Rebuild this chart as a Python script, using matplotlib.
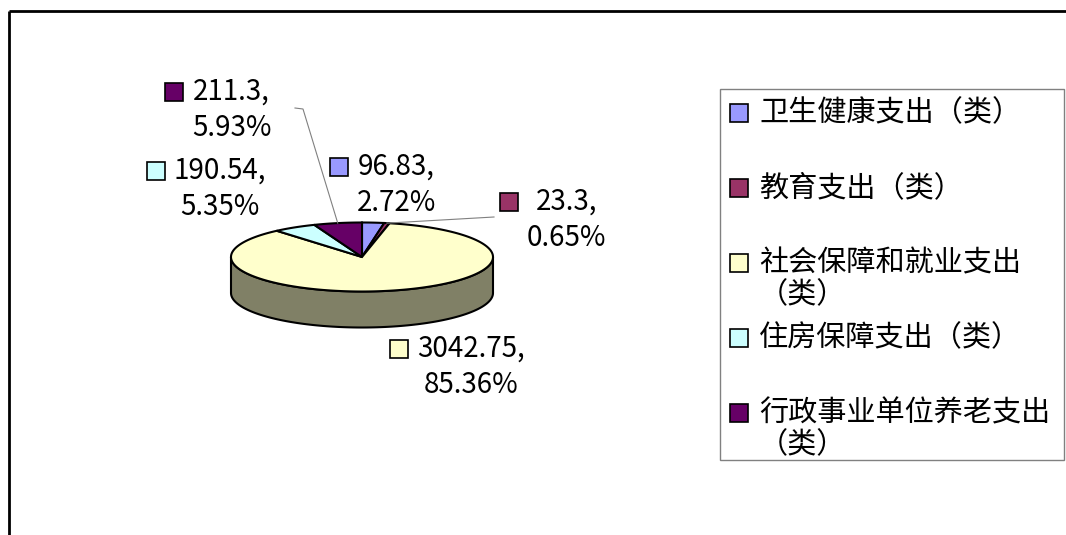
import matplotlib.pyplot as plt
import numpy as np
from matplotlib.colors import to_rgb
from matplotlib.patches import Polygon, Rectangle

plt.rcParams["font.family"] = ["Noto Sans CJK SC", "DejaVu Sans"]

# data, in drawing order (clockwise from 12 o'clock)
categories = [
    "卫生健康支出（类）",
    "教育支出（类）",
    "社会保障和就业支出\n（类）",
    "住房保障支出（类）",
    "行政事业单位养老支出\n（类）",
]
values = [96.83, 23.3, 3042.75, 190.54, 211.3]
colors = ["#9999FF", "#993366", "#FFFFCC", "#CCFFFF", "#660066"]

# label anchors (marker top-left, pixels) and leader line start points
label_pos = [(330, 158), (500, 193), (390, 340), (147, 162), (165, 83)]
leader_from = [None, [(494, 217)], None, None, [(295, 108), (303, 109)]]

W, H = 1066, 535
fig = plt.figure(figsize=(W / 100, H / 100), dpi=100)
ax = fig.add_axes([0, 0, 1, 1])
ax.set_xlim(0, W)
ax.set_ylim(H, 0)
ax.axis("off")

# outer chart frame (only top and left edges are visible)
ax.plot([9, W], [11, 11], color="black", lw=2, solid_capstyle="butt")
ax.plot([9, 9], [11, H], color="black", lw=2, solid_capstyle="butt")

# 3D pie geometry
cx, cy, a, b, depth = 362, 257, 131, 34.5, 36


def pt(theta, dy=0.0):
    t = np.radians(theta)
    return cx + a * np.cos(t), cy - b * np.sin(t) + dy


total = sum(values)
fracs = [v / total for v in values]
angles = []
start = 90.0
for f in fracs:
    end = start - 360 * f
    angles.append((start, end))
    start = end

# side walls (front half only)
for (s, e), col in zip(angles, colors):
    shade = tuple(0.5 * c for c in to_rgb(col))
    for lo, hi in [(-540, -360), (-180, 0), (180, 360)]:
        a0, a1 = max(e, lo), min(s, hi)
        if a1 <= a0:
            continue
        th = np.linspace(a0, a1, 120)
        top = [pt(t) for t in th]
        bot = [pt(t, depth) for t in th[::-1]]
        ax.add_patch(Polygon(top + bot, closed=True, facecolor=shade,
                             edgecolor="black", lw=1.5, zorder=1))

# top faces
mids = []
for (s, e), col in zip(angles, colors):
    th = np.linspace(s, e, max(int(abs(s - e)) * 2, 4))
    verts = [(cx, cy)] + [pt(t) for t in th]
    ax.add_patch(Polygon(verts, closed=True, facecolor=col,
                         edgecolor="black", lw=1.5, zorder=2))
    mids.append((s + e) / 2)

# data labels
for v, f, col, (lx, ly), lf, m in zip(values, fracs, colors, label_pos,
                                      leader_from, mids):
    ax.add_patch(Rectangle((lx, ly), 18, 18, facecolor=col,
                           edgecolor="black", lw=1.2, zorder=3))
    ax.text(lx + 27, ly + 9 + 18, f"{v:g},\n{100 * f:.2f}%", ha="left",
            va="center", fontsize=20, multialignment="center",
            linespacing=1.3, zorder=3)
    if lf is not None:
        ex, ey = pt(m)
        xs = [p[0] for p in lf] + [ex]
        ys = [p[1] for p in lf] + [ey]
        ax.plot(xs, ys, color="#808080", lw=0.8, zorder=3)

# legend box
ax.add_patch(Rectangle((720, 89), 344, 371, facecolor="white",
                       edgecolor="#808080", lw=1, zorder=3))
for i, (cat, col) in enumerate(zip(categories, colors)):
    yc = 113 + 75 * i
    ax.add_patch(Rectangle((730, yc - 9), 18, 18, facecolor=col,
                           edgecolor="black", lw=1.2, zorder=4))
    for j, line in enumerate(cat.split("\n")):
        ax.text(759, yc + 32 * j, line, ha="left", va="center",
                fontsize=21, zorder=4)

fig.savefig("out.png", dpi=100)
